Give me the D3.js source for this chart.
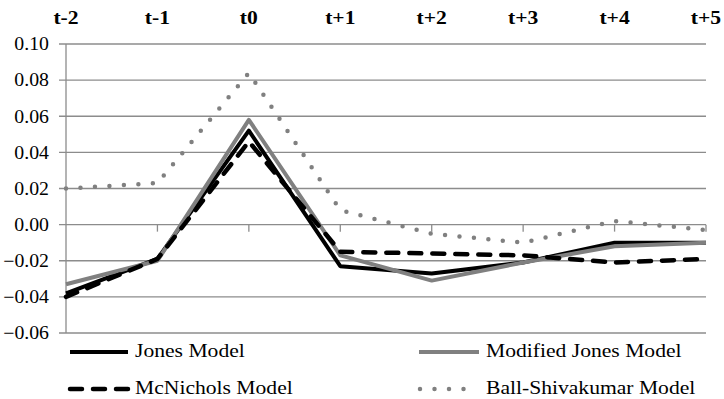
<!DOCTYPE html>
<html>
<head>
<meta charset="utf-8">
<script src="https://cdn.jsdelivr.net/npm/d3@7"></script>
<style>
  html, body { margin: 0; padding: 0; background: #fff; }
  svg { display: block; }
</style>
</head>
<body>
<svg id="chart" width="724" height="399"></svg>
<script>
const categories = ["t-2", "t-1", "t0", "t+1", "t+2", "t+3", "t+4", "t+5"];
const jones      = [-0.038, -0.019, 0.052, -0.023, -0.027, -0.021, -0.010, -0.010];
const modJones   = [-0.033, -0.020, 0.058, -0.017, -0.031, -0.021, -0.012, -0.010];
const mcNichols  = [-0.040, -0.019, 0.046, -0.015, -0.016, -0.017, -0.021, -0.019];
const ballShiva  = [0.020, 0.023, 0.084, 0.008, -0.005, -0.010, 0.002, -0.003];
const yTicks     = [-0.06, -0.04, -0.02, 0.00, 0.02, 0.04, 0.06, 0.08, 0.10];
const seriesNames = ["Jones Model", "Modified Jones Model", "McNichols Model", "Ball-Shivakumar Model"];

const series = [
  { name: seriesNames[0], values: jones,     color: "#000000", width: 4,   dash: null,     cap: "butt" },
  { name: seriesNames[1], values: modJones,  color: "#808080", width: 4,   dash: null,     cap: "butt" },
  { name: seriesNames[2], values: mcNichols, color: "#000000", width: 4.5, dash: "12,11",  cap: "round" },
  { name: seriesNames[3], values: ballShiva, color: "#808080", width: 4.5, dash: "0,14.5", cap: "round" }
];

const FONT = "'Liberation Serif', 'Times New Roman', serif";
const FS = 18, SX = 1.2, SXY = 1.1;
const svg = d3.select("#chart").attr("font-family", FONT);
const mLeft = 66, mRight = 706, mTop = 44, mBottom = 333;

const x = d3.scalePoint().domain(categories).range([mLeft, mRight]);
const y = d3.scaleLinear().domain([-0.06, 0.10]).range([mBottom, mTop]);

// gridlines + left ticks
svg.append("g").selectAll("line").data(yTicks).join("line")
  .attr("x1", mLeft - 7).attr("x2", mRight)
  .attr("y1", d => y(d)).attr("y2", d => y(d))
  .attr("stroke", "#8c8c8c").attr("stroke-width", 1.3);

// y axis line
svg.append("line").attr("x1", mLeft).attr("x2", mLeft)
  .attr("y1", mTop).attr("y2", mBottom)
  .attr("stroke", "#8c8c8c").attr("stroke-width", 1.3);

// x-axis tick marks at zero line
svg.append("g").selectAll("line").data(categories.slice(1)).join("line")
  .attr("x1", d => x(d)).attr("x2", d => x(d))
  .attr("y1", y(0)).attr("y2", y(0) + 7)
  .attr("stroke", "#8c8c8c").attr("stroke-width", 1.3);

// y labels (horizontally widened like the reference)
svg.append("g").selectAll("text").data(yTicks).join("text")
  .attr("transform", d => `translate(49,${y(d)}) scale(${SXY},1)`)
  .attr("dy", "0.35em")
  .attr("text-anchor", "end").attr("font-size", FS).attr("fill", "#000")
  .attr("font-family", FONT)
  .text(d => d3.format(".2f")(d));

// category labels on top
svg.append("g").selectAll("text").data(categories).join("text")
  .attr("transform", d => `translate(${x(d)},24) scale(${SX},1)`)
  .attr("text-anchor", "middle").attr("font-size", FS).attr("font-weight", "bold").attr("fill", "#000")
  .attr("font-family", FONT)
  .text(d => d);

// series lines
const line = d3.line().x((d, i) => x(categories[i])).y(d => y(d));
series.forEach(s => {
  svg.append("path").datum(s.values)
    .attr("d", line)
    .attr("fill", "none")
    .attr("stroke", s.color)
    .attr("stroke-width", s.width)
    .attr("stroke-linejoin", "round")
    .attr("stroke-linecap", s.cap)
    .attr("stroke-dasharray", s.dash);
});

// legend
const legendPos = [
  { lx1: 70, lx2: 128, tx: 135, y: 352 },
  { lx1: 419, lx2: 479, tx: 486, y: 352 },
  { lx1: 70, lx2: 128, tx: 135, y: 389 },
  { lx1: 420, lx2: 470, tx: 486, y: 389 }
];
series.forEach((s, i) => {
  const p = legendPos[i];
  svg.append("line")
    .attr("x1", p.lx1).attr("x2", p.lx2).attr("y1", p.y).attr("y2", p.y)
    .attr("stroke", s.color).attr("stroke-width", s.width)
    .attr("stroke-linecap", s.cap).attr("stroke-dasharray", s.dash);
  svg.append("text")
    .attr("transform", `translate(${p.tx},${p.y - 1}) scale(${SX},1)`)
    .attr("dy", "0.35em")
    .attr("font-size", FS).attr("fill", "#000")
    .attr("font-family", FONT)
    .text(s.name);
});
</script>
</body>
</html>
